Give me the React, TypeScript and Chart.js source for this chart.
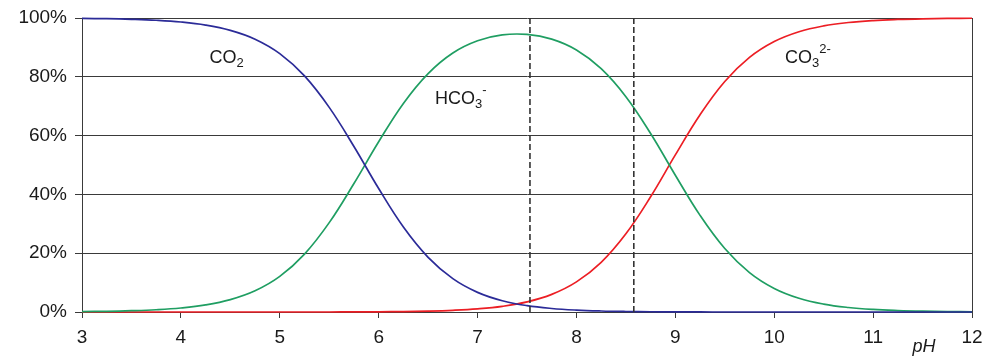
import { useEffect, useRef } from 'react';
import { Chart, registerables } from 'chart.js';

Chart.register(...registerables);

// pH sample points (x axis)
const phValues = [
  3, 3.25, 3.5, 3.75, 4, 4.25, 4.5, 4.75, 5, 5.25, 5.5, 5.75, 6, 6.25, 6.5, 6.75,
  7, 7.25, 7.5, 7.75, 8, 8.25, 8.5, 8.75, 9, 9.25, 9.5, 9.75, 10, 10.25, 10.5,
  10.75, 11, 11.25, 11.5, 11.75, 12,
];

// Share of each species, in %
const co2Values = [
  99.86, 99.76, 99.56, 99.23, 98.64, 97.6, 95.8, 92.8, 87.9, 80.3, 69.6, 56.3,
  42.0, 28.9, 18.6, 11.35, 6.68, 3.84, 2.16, 1.2, 0.65, 0.34, 0.17, 0.08, 0.03,
  0.01, 0, 0, 0, 0, 0, 0, 0, 0, 0, 0, 0,
];
const hco3Values = [
  0.14, 0.24, 0.44, 0.77, 1.36, 2.4, 4.2, 7.2, 12.1, 19.7, 30.4, 43.7, 57.9,
  70.95, 81.1, 88.1, 92.26, 94.24, 94.41, 92.81, 89.12, 82.77, 73.24, 60.72,
  46.53, 32.87, 21.59, 13.41, 8.01, 4.67, 2.68, 1.53, 0.86, 0.49, 0.27, 0.15,
  0.09,
];
const co3Values = [
  0, 0, 0, 0, 0, 0, 0, 0, 0, 0, 0, 0.03, 0.07, 0.14, 0.29, 0.57, 1.06, 1.92,
  3.43, 5.99, 10.24, 16.9, 26.6, 39.2, 53.44, 67.11, 78.4, 86.59, 91.99, 95.33,
  97.32, 98.47, 99.14, 99.51, 99.73, 99.85, 99.91,
];

// Dashed reference lines (pH)
const markerPH = [7.53, 8.58];

// Axis ticks
const xTicks = [3, 4, 5, 6, 7, 8, 9, 10, 11, 12];
const yTicks = [0, 20, 40, 60, 80, 100];

type Part = [string, 'n' | 'sub' | 'sup'];

const FONT = '"Liberation Sans", Arial, sans-serif';
const INK = '#1a1a1a';
const GRID = '#3a3a3a';

function drawChem(ctx: CanvasRenderingContext2D, x0: number, y0: number, parts: Part[]) {
  let x = x0;
  ctx.save();
  ctx.fillStyle = INK;
  ctx.textAlign = 'left';
  ctx.textBaseline = 'alphabetic';
  for (const [t, k] of parts) {
    if (k === 'n') {
      ctx.font = `18px ${FONT}`;
      ctx.fillText(t, x, y0);
    } else if (k === 'sub') {
      ctx.font = `13px ${FONT}`;
      ctx.fillText(t, x, y0 + 4);
    } else {
      ctx.font = `13px ${FONT}`;
      ctx.fillText(t, x, y0 - 10);
    }
    x += ctx.measureText(t).width;
  }
  ctx.restore();
}

const labelPlugin = {
  id: 'speciesLabels',
  afterDraw(chart: any) {
    const { ctx, scales } = chart;
    const xs = scales.x;
    const ys = scales.y;
    drawChem(ctx, xs.getPixelForValue(4.29), ys.getPixelForValue(84.7), [
      ['CO', 'n'],
      ['2', 'sub'],
    ]);
    drawChem(ctx, xs.getPixelForValue(6.57), ys.getPixelForValue(70.6), [
      ['HCO', 'n'],
      ['3', 'sub'],
      ['-', 'sup'],
    ]);
    const x3 = xs.getPixelForValue(10.11);
    const y3 = ys.getPixelForValue(84.8);
    ctx.save();
    ctx.font = `18px ${FONT}`;
    const wCO = ctx.measureText('CO').width;
    ctx.font = `13px ${FONT}`;
    const w3 = ctx.measureText('3').width;
    ctx.restore();
    drawChem(ctx, x3, y3, [
      ['CO', 'n'],
      ['3', 'sub'],
    ]);
    drawChem(ctx, x3 + wCO + w3, y3, [['2-', 'sup']]);

    // axis title "pH"
    ctx.save();
    ctx.font = `italic 18px ${FONT}`;
    ctx.fillStyle = INK;
    ctx.textAlign = 'center';
    ctx.textBaseline = 'alphabetic';
    ctx.fillText('pH', 924, 352);
    ctx.restore();
  },
};

export default function App() {
  const ref = useRef<HTMLCanvasElement | null>(null);

  useEffect(() => {
    if (!ref.current) return;
    const mk = (vals: number[]) => phValues.map((p, i) => ({ x: p, y: vals[i] }));
    const curve = (label: string, vals: number[], color: string) => ({
      label,
      data: mk(vals),
      borderColor: color,
      backgroundColor: color,
      borderWidth: 1.7,
      pointRadius: 0,
      tension: 0.4,
      fill: false,
      clip: false as any,
    });
    const dashed = markerPH.map((p) => ({
      label: `pH ${p}`,
      data: [
        { x: p, y: 0 },
        { x: p, y: 100 },
      ],
      borderColor: '#333333',
      borderWidth: 1.6,
      borderDash: [6, 3],
      pointRadius: 0,
      fill: false,
    }));

    const chart = new Chart(ref.current, {
      type: 'line',
      data: {
        datasets: [
          ...dashed,
          curve('CO2', co2Values, '#2b2b98'),
          curve('HCO3-', hco3Values, '#1f9e62'),
          curve('CO3 2-', co3Values, '#ec1e24'),
        ] as any,
      },
      options: {
        animation: false,
        responsive: true,
        maintainAspectRatio: false,
        layout: { padding: { top: 18, right: 15, left: 0, bottom: 0 } },
        plugins: {
          legend: { display: false },
          tooltip: { enabled: false },
        },
        scales: {
          x: {
            type: 'linear',
            min: 3,
            max: 12,
            afterBuildTicks: (s: any) => {
              s.ticks = xTicks.map((v) => ({ value: v }));
            },
            afterFit: (s: any) => {
              s.height = 44;
              s.paddingRight = 0;
              s.paddingLeft = 0;
            },
            ticks: {
              font: { family: FONT, size: 19 },
              color: INK,
              padding: 8,
              maxRotation: 0,
              autoSkip: false,
              callback: (v: any) => String(v),
            },
            grid: {
              color: (c: any) => (c.tick && c.tick.value === 12 ? GRID : 'rgba(0,0,0,0)'),
              tickColor: GRID,
              tickLength: 6,
              lineWidth: 1,
            },
            border: { color: GRID, width: 1 },
          },
          y: {
            min: 0,
            max: 100,
            afterBuildTicks: (s: any) => {
              s.ticks = yTicks.map((v) => ({ value: v }));
            },
            afterFit: (s: any) => {
              s.width = 82;
              s.paddingTop = 0;
              s.paddingBottom = 0;
            },
            ticks: {
              font: { family: FONT, size: 19 },
              color: INK,
              padding: 8,
              callback: (v: any) => `${v}%`,
            },
            grid: {
              color: GRID,
              tickColor: GRID,
              tickLength: 7,
              lineWidth: 1,
            },
            border: { color: GRID, width: 1 },
          },
        },
      },
      plugins: [labelPlugin],
    });
    return () => chart.destroy();
  }, []);

  return (
    <div
      style={{
        position: 'fixed',
        left: 0,
        top: 0,
        width: '987px',
        height: '356px',
        background: '#ffffff',
      }}
    >
      <canvas ref={ref} />
    </div>
  );
}
